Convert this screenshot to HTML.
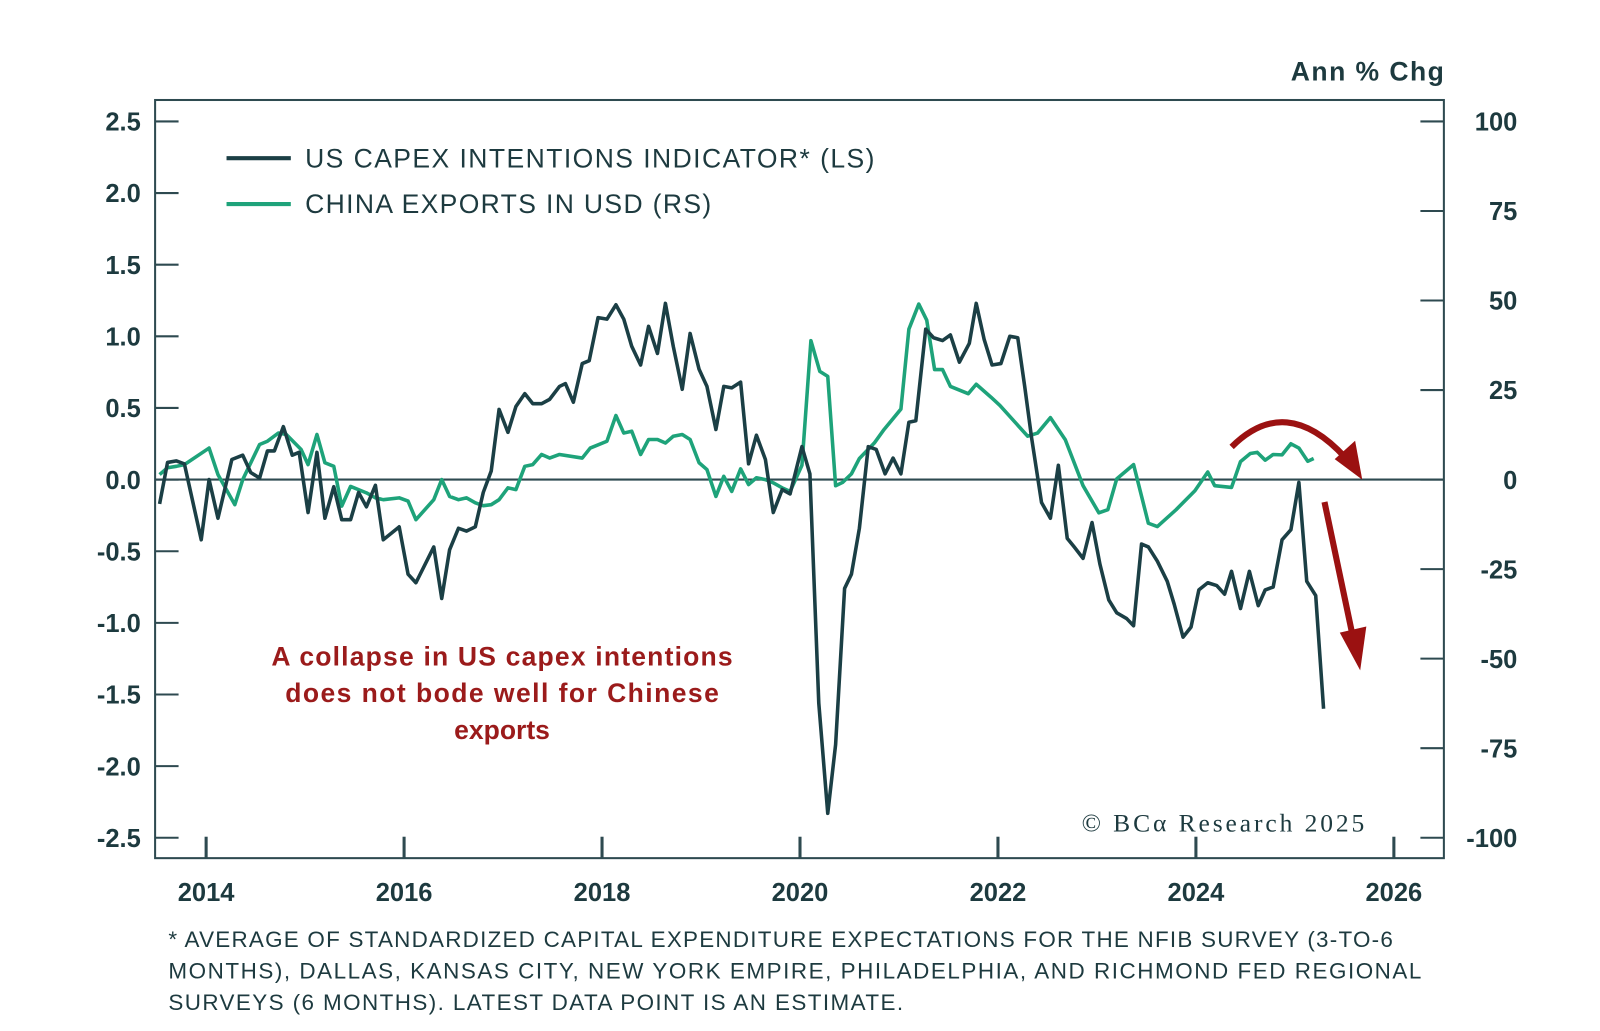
<!DOCTYPE html>
<html><head><meta charset="utf-8"><style>
html,body{margin:0;padding:0;background:#fff;}
svg{display:block;font-family:"Liberation Sans",sans-serif;}
</style></head><body>
<svg id="chart" width="1600" height="1031" viewBox="0 0 1568 1010.4" preserveAspectRatio="none" xmlns="http://www.w3.org/2000/svg">
<rect x="0" y="0" width="1568" height="1011" fill="#fff"/>
<g id="axes"></g>
<g id="series"></g>
<text x="1415" y="79" text-anchor="end" font-size="26" font-weight="bold" fill="#1d3a3f" textLength="150">Ann % Chg</text>
<g>
<line x1="222" y1="155" x2="285" y2="155" stroke="#1b3f45" stroke-width="4"/>
<text x="299" y="164" font-size="26" fill="#1d3a3f" textLength="558">US CAPEX INTENTIONS INDICATOR* (LS)</text>
<line x1="222" y1="200" x2="285" y2="200" stroke="#1ea37a" stroke-width="4"/>
<text x="299" y="209" font-size="26" fill="#1d3a3f" textLength="398">CHINA EXPORTS IN USD (RS)</text>
</g>
<g font-size="26" font-weight="bold" fill="#9b1b1b" text-anchor="middle">
<text x="492" y="652" textLength="452">A collapse in US capex intentions</text>
<text x="492" y="688" textLength="425">does not bode well for Chinese</text>
<text x="492" y="724">exports</text>
</g>
<g stroke="#9b1111" fill="none" stroke-width="6">
<path d="M1207,438 Q1260,385 1318,448"/>
<polygon points="1335,470 1308,450 1328,432" fill="#9b1111" stroke="none"/>
<line x1="1298" y1="492" x2="1326" y2="625"/>
<polygon points="1333,657 1313,620 1339,614" fill="#9b1111" stroke="none"/>
</g>
<text x="1060" y="815" font-family="Liberation Serif, serif" font-size="25" fill="#1d3a3f" textLength="277">© BCα Research 2025</text>
<g font-size="22" fill="#1d3a3f">
<text x="165" y="928" textLength="1200">* AVERAGE OF STANDARDIZED CAPITAL EXPENDITURE EXPECTATIONS FOR THE NFIB SURVEY (3-TO-6</text>
<text x="165" y="959" textLength="1228">MONTHS), DALLAS, KANSAS CITY, NEW YORK EMPIRE, PHILADELPHIA, AND RICHMOND FED REGIONAL</text>
<text x="165" y="990" textLength="720">SURVEYS (6 MONTHS). LATEST DATA POINT IS AN ESTIMATE.</text>
</g>
</svg>
<script>
const leftTicks=[2.5,2.0,1.5,1.0,0.5,0.0,-0.5,-1.0,-1.5,-2.0,-2.5];
const leftTickLabels=["2.5","2.0","1.5","1.0","0.5","0.0","-0.5","-1.0","-1.5","-2.0","-2.5"];
const rightTicks=[100,75,50,25,0,-25,-50,-75,-100];
const yearTicks=[2014,2016,2018,2020,2022,2024,2026];
const capexDates=[2013.53,2013.61,2013.70,2013.78,2013.95,2014.03,2014.12,2014.26,2014.37,2014.45,2014.54,2014.62,2014.69,2014.78,2014.87,2014.94,2015.03,2015.12,2015.20,2015.29,2015.37,2015.46,2015.54,2015.62,2015.71,2015.79,2015.95,2016.04,2016.12,2016.30,2016.38,2016.46,2016.55,2016.63,2016.72,2016.80,2016.88,2016.96,2017.05,2017.13,2017.22,2017.30,2017.39,2017.47,2017.57,2017.63,2017.71,2017.80,2017.87,2017.96,2018.05,2018.14,2018.22,2018.30,2018.39,2018.47,2018.56,2018.64,2018.72,2018.81,2018.89,2018.98,2019.06,2019.15,2019.23,2019.31,2019.40,2019.48,2019.56,2019.65,2019.73,2019.82,2019.90,2020.02,2020.10,2020.19,2020.28,2020.36,2020.45,2020.52,2020.60,2020.69,2020.77,2020.86,2020.94,2021.02,2021.10,2021.17,2021.27,2021.35,2021.44,2021.52,2021.61,2021.71,2021.78,2021.86,2021.94,2022.03,2022.12,2022.20,2022.27,2022.34,2022.44,2022.53,2022.61,2022.70,2022.77,2022.86,2022.95,2023.03,2023.12,2023.20,2023.30,2023.37,2023.45,2023.52,2023.61,2023.71,2023.78,2023.87,2023.95,2024.03,2024.12,2024.21,2024.29,2024.36,2024.45,2024.54,2024.63,2024.70,2024.78,2024.87,2024.96,2025.04,2025.12,2025.21,2025.29];
const capexValues=[-0.17,0.12,0.13,0.11,-0.42,0,-0.27,0.14,0.17,0.05,0.01,0.2,0.2,0.37,0.17,0.19,-0.23,0.19,-0.27,-0.05,-0.28,-0.28,-0.09,-0.19,-0.04,-0.42,-0.33,-0.66,-0.72,-0.47,-0.83,-0.49,-0.34,-0.36,-0.33,-0.09,0.06,0.49,0.33,0.51,0.6,0.53,0.53,0.56,0.65,0.67,0.54,0.81,0.83,1.13,1.12,1.22,1.12,0.93,0.8,1.07,0.88,1.23,0.93,0.63,1.02,0.77,0.65,0.35,0.65,0.64,0.68,0.11,0.31,0.14,-0.23,-0.07,-0.1,0.23,0.04,-1.56,-2.33,-1.85,-0.76,-0.66,-0.34,0.23,0.21,0.04,0.15,0.04,0.4,0.41,1.05,0.99,0.97,1.01,0.82,0.95,1.23,0.98,0.8,0.81,1.0,0.99,0.65,0.29,-0.16,-0.27,0.1,-0.41,-0.47,-0.55,-0.3,-0.59,-0.84,-0.93,-0.97,-1.02,-0.45,-0.47,-0.57,-0.71,-0.87,-1.1,-1.03,-0.77,-0.72,-0.74,-0.8,-0.64,-0.9,-0.64,-0.88,-0.77,-0.75,-0.42,-0.35,-0.02,-0.71,-0.81,-1.6];
const chinaDates=[2013.53,2013.61,2013.70,2013.78,2014.03,2014.12,2014.29,2014.37,2014.54,2014.62,2014.73,2014.81,2014.96,2015.03,2015.12,2015.20,2015.29,2015.37,2015.46,2015.62,2015.71,2015.79,2015.95,2016.04,2016.12,2016.30,2016.38,2016.46,2016.55,2016.63,2016.72,2016.80,2016.88,2016.96,2017.05,2017.13,2017.22,2017.30,2017.39,2017.47,2017.57,2017.80,2017.88,2018.05,2018.14,2018.22,2018.30,2018.39,2018.47,2018.56,2018.64,2018.72,2018.81,2018.89,2018.98,2019.06,2019.15,2019.23,2019.31,2019.40,2019.48,2019.56,2019.65,2019.73,2019.82,2019.90,2020.02,2020.11,2020.20,2020.28,2020.36,2020.43,2020.52,2020.60,2020.75,2020.85,2021.02,2021.10,2021.20,2021.28,2021.36,2021.44,2021.52,2021.70,2021.78,2021.93,2022.02,2022.30,2022.40,2022.53,2022.68,2022.86,2023.02,2023.11,2023.20,2023.37,2023.52,2023.61,2023.80,2023.99,2024.12,2024.19,2024.36,2024.45,2024.55,2024.62,2024.70,2024.78,2024.87,2024.96,2025.04,2025.13,2025.19];
const chinaValues=[1.4,3.3,3.7,4.2,8.8,1.4,-7,0,9.8,10.7,13,12.6,8.4,4.2,12.6,4.7,3.7,-7.4,-1.9,-3.7,-5.1,-5.6,-5.1,-6,-11.2,-5.6,0,-4.7,-5.6,-5.1,-6.5,-7.3,-7,-5.6,-2.3,-2.8,3.7,4.2,7,6,7,6,8.8,10.7,17.9,13,13.5,7,11.2,11.2,10.2,12.1,12.6,11.2,4.7,2.8,-4.7,0.9,-3.3,3,-1.4,0.5,0,-0.9,-2.3,-3.3,4,38.8,30.2,28.8,-1.7,-0.8,1.6,5.9,10.2,14,19.7,42,49,44.5,30.7,30.7,26,24,26.6,23,20.7,12.1,13,17.3,11.1,-1.7,-9.3,-8.4,0.2,4.2,-12.2,-13.1,-8.4,-3.1,2.1,-1.7,-2.2,5,7.3,7.6,5.4,7,6.9,10,8.8,5.1,5.9];

const PL=152,PR=1415,PT=98,PB=841;
const xS=y=>202+(y-2014)*97;
const yL=v=>470-v*140.4;
const yR=v=>470-v*3.51;
const NS="http://www.w3.org/2000/svg";
function mk(tag,attrs,parent,txt){const e=document.createElementNS(NS,tag);for(const k in attrs)e.setAttribute(k,attrs[k]);if(txt!==undefined)e.textContent=txt;parent.appendChild(e);return e;}
const axes=document.getElementById('axes');
const series=document.getElementById('series');
const C="#2e4a50";
const frame=mk('rect',{x:PL,y:PT,width:PR-PL,height:PB-PT,fill:'none',stroke:C,'stroke-width':2},axes);


const zero=mk('line',{x1:PL,x2:PR,y1:yL(0),y2:yL(0),stroke:C,'stroke-width':2},axes);


leftTicks.forEach((v,i)=>{
  const t=mk('line',{x1:PL,x2:PL+23,y1:yL(v),y2:yL(v),stroke:C,'stroke-width':2},axes);
  
  
  const l=mk('text',{x:138,y:yL(v)+9,'text-anchor':'end','font-size':25,'font-weight':'bold',fill:'#1d3a3f'},axes,leftTickLabels[i]);
  
  
});
rightTicks.forEach(v=>{
  const t=mk('line',{x1:PR-23,x2:PR,y1:yR(v),y2:yR(v),stroke:C,'stroke-width':2},axes);
  
  
  const l=mk('text',{x:1487,y:yR(v)+9,'text-anchor':'end','font-size':25,'font-weight':'bold',fill:'#1d3a3f'},axes,String(v));
  
  
});
yearTicks.forEach(yv=>{
  const t=mk('line',{x1:xS(yv),x2:xS(yv),y1:PB-21,y2:PB,stroke:C,'stroke-width':3},axes);
  
  
  const l=mk('text',{x:xS(yv),y:883,'text-anchor':'middle','font-size':25,'font-weight':'bold',fill:'#1d3a3f'},axes,String(yv));
  
  
});
const gp=chinaDates.map((d,i)=>xS(d).toFixed(1)+','+yR(chinaValues[i]).toFixed(1)).join(' ');
const g=mk('polyline',{points:gp,fill:'none',stroke:'#1ea37a','stroke-width':3.5,'stroke-linejoin':'round'},series);


const cp=capexDates.map((d,i)=>xS(d).toFixed(1)+','+yL(capexValues[i]).toFixed(1)).join(' ');
const c=mk('polyline',{points:cp,fill:'none',stroke:'#1b3f45','stroke-width':3.5,'stroke-linejoin':'round'},series);


</script>
</body></html>
